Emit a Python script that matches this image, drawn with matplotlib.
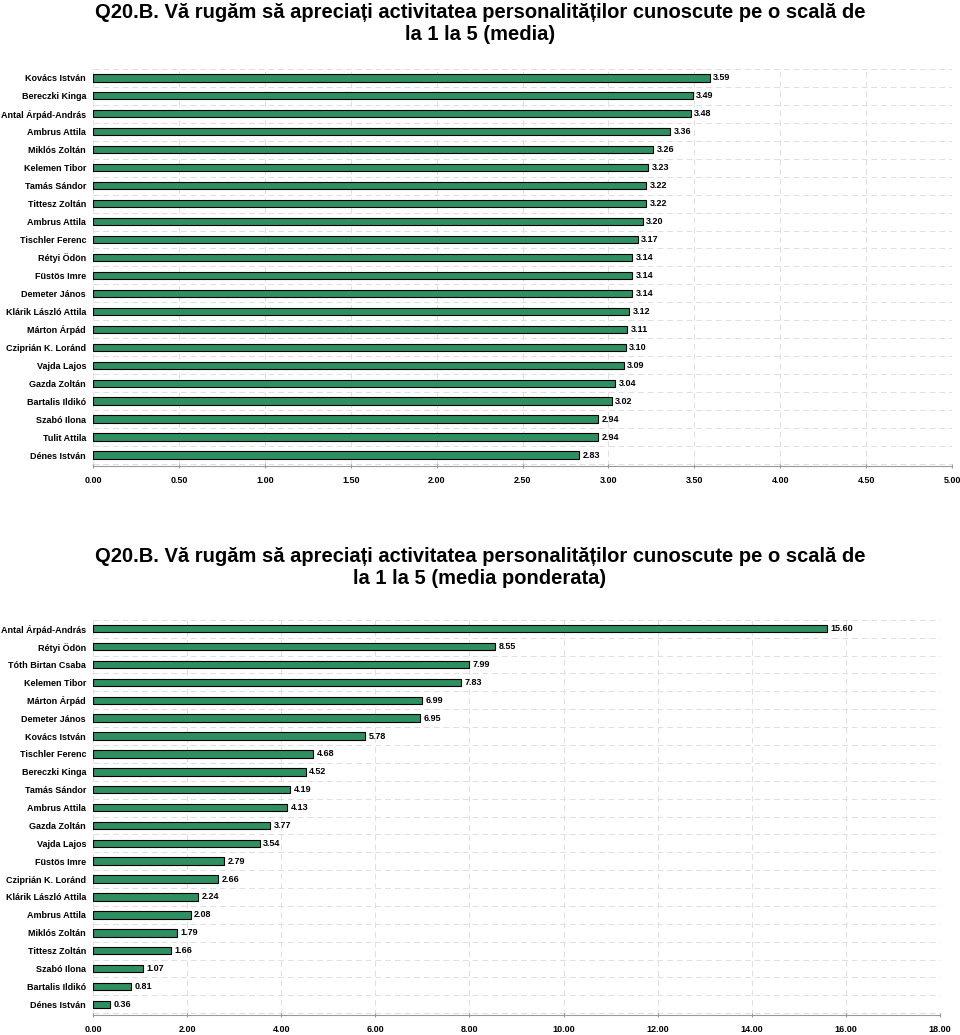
import matplotlib
matplotlib.use("Agg")
from matplotlib import pyplot as plt

plt.rcParams['font.family'] = ['Liberation Sans', 'DejaVu Sans']

names1 = ["Kovács István", "Bereczki Kinga", "Antal Árpád-András", "Ambrus Attila",
          "Miklós Zoltán", "Kelemen Tibor", "Tamás Sándor", "Tittesz Zoltán",
          "Ambrus Attila", "Tischler Ferenc", "Rétyi Ödön", "Füstös Imre",
          "Demeter János", "Klárik László Attila", "Márton Árpád", "Cziprián K. Loránd",
          "Vajda Lajos", "Gazda Zoltán", "Bartalis Ildikó", "Szabó Ilona",
          "Tulit Attila", "Dénes István"]
vals1 = [3.59, 3.49, 3.48, 3.36, 3.26, 3.23, 3.22, 3.22, 3.20, 3.17, 3.14,
         3.14, 3.14, 3.12, 3.11, 3.10, 3.09, 3.04, 3.02, 2.94, 2.94, 2.83]
ticks1 = [0, 0.5, 1, 1.5, 2, 2.5, 3, 3.5, 4, 4.5, 5]

names2 = ["Antal Árpád-András", "Rétyi Ödön", "Tóth Birtan Csaba", "Kelemen Tibor",
          "Márton Árpád", "Demeter János", "Kovács István", "Tischler Ferenc",
          "Bereczki Kinga", "Tamás Sándor", "Ambrus Attila", "Gazda Zoltán",
          "Vajda Lajos", "Füstös Imre", "Cziprián K. Loránd", "Klárik László Attila",
          "Ambrus Attila", "Miklós Zoltán", "Tittesz Zoltán", "Szabó Ilona",
          "Bartalis Ildikó", "Dénes István"]
vals2 = [15.60, 8.55, 7.99, 7.83, 6.99, 6.95, 5.78, 4.68, 4.52, 4.19, 4.13,
         3.77, 3.54, 2.79, 2.66, 2.24, 2.08, 1.79, 1.66, 1.07, 0.81, 0.36]
ticks2 = [0, 2, 4, 6, 8, 10, 12, 14, 16, 18]

title1 = "Q20.B. Vă rugăm să apreciați activitatea personalităților cunoscute pe o scală de\nla 1 la 5 (media)"
title2 = "Q20.B. Vă rugăm să apreciați activitatea personalităților cunoscute pe o scală de\nla 1 la 5 (media ponderata)"

green = "#2E9060"


def draw(ax, names, vals, ticks, xmax, off):
    n = len(names)
    ys = list(range(n))[::-1]
    ax.barh(ys, vals, height=0.42, color=green, edgecolor="black", linewidth=0.8, zorder=3)
    for y, v in zip(ys, vals):
        ax.text(v + off, y, "%.2f" % v, va="center", ha="left", fontsize=6.5,
                fontweight="bold", zorder=4)
    ax.set_yticks(ys)
    ax.set_yticklabels(names, fontsize=6.5, fontweight="bold")
    ax.set_ylim(-0.6, n - 0.4)
    ax.set_xlim(0, xmax)
    ax.set_xticks(ticks)
    ax.set_xticklabels(["%.2f" % t for t in ticks], fontsize=6.5, fontweight="bold")
    for y in ys:
        ax.axhline(y + 0.5, color="#e0e0e0", linestyle=(0, (6, 4)), linewidth=0.7, zorder=1)
    ax.axhline(-0.5, color="#e0e0e0", linestyle=(0, (6, 4)), linewidth=0.7, zorder=1)
    for t in ticks:
        ax.axvline(t, color="#e0e0e0", linestyle=(0, (6, 4)), linewidth=0.7, zorder=1)
    for s in ["top", "right", "left"]:
        ax.spines[s].set_visible(False)
    ax.spines["bottom"].set_color("#999999")
    ax.tick_params(axis="y", length=0, pad=5)
    ax.tick_params(axis="x", length=3, color="#999999", direction="inout", pad=6)


fig = plt.figure(figsize=(9.6, 10.35), dpi=100)
ax1 = fig.add_axes([0.0969, 0.5498, 0.8948, 0.3855])
draw(ax1, names1, vals1, ticks1, 5, 0.02)
fig.text(0.5, 0.997, title1, ha="center", va="top", fontsize=14.5, fontweight="bold",
         linespacing=1.2)

ax2 = fig.add_axes([0.0969, 0.0193, 0.8823, 0.3836])
draw(ax2, names2, vals2, ticks2, 18, 0.07)
fig.text(0.5, 0.4715, title2, ha="center", va="top", fontsize=14.5, fontweight="bold",
         linespacing=1.2)

fig.savefig("out.png", dpi=100)
